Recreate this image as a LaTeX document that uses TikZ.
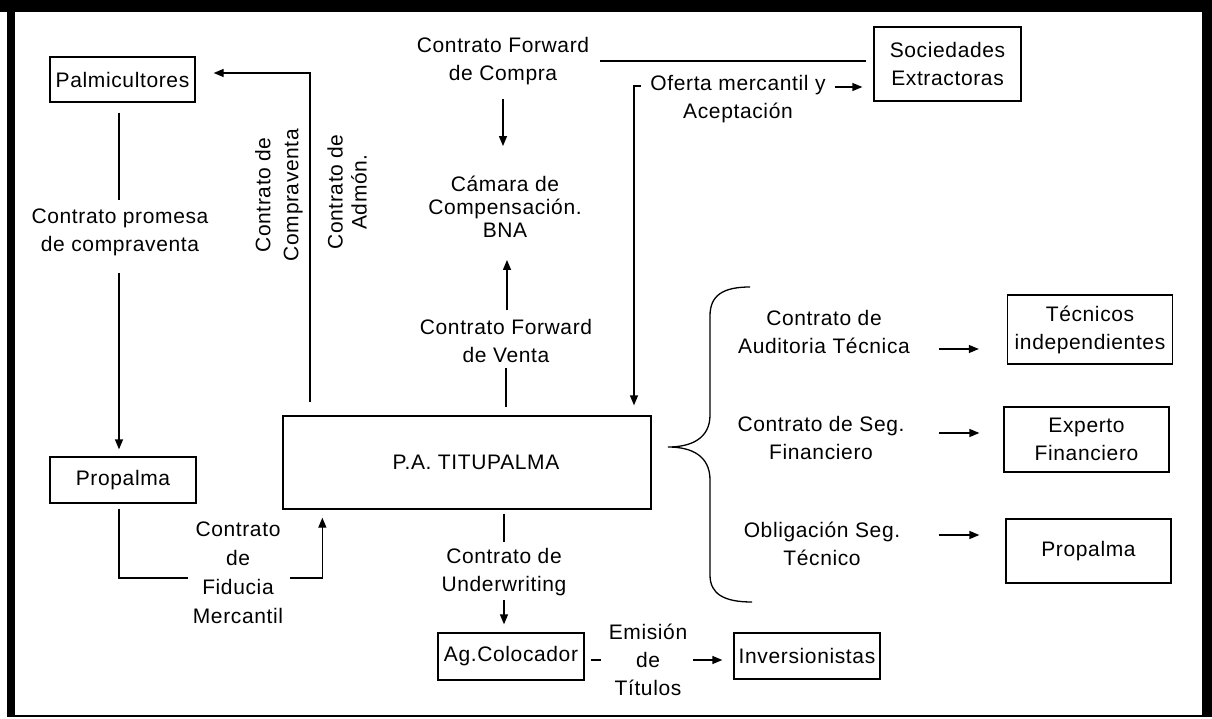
\documentclass[tikz,border=0pt]{standalone}
\usepackage{fontspec}
\setmainfont[LetterSpace=3]{Liberation Sans}
\usetikzlibrary{arrows.meta,calc}
\tikzset{
  box/.style={draw, line width=1.3pt, inner sep=0pt, align=center},
  lbl/.style={inner sep=0pt, align=center},
  conn/.style={line width=1.3pt},
  arr/.style={line width=1.3pt, -{Triangle[length=10pt,width=8pt]}},
}
\begin{document}
\begin{tikzpicture}[x=1pt,y=-1pt,font=\fontsize{21}{28}\selectfont]
\useasboundingbox (0,0) rectangle (1212,719);
% frame
\fill[black] (0,0) rectangle (1212,12);
\fill[black] (7,0) rectangle (15,717);
\fill[black] (1202,0) rectangle (1212,717);
\draw[line width=1.5pt] (15,716) -- (1202,716);

% boxes
\node[box, minimum width=145pt, minimum height=45pt] (palm) at (122.5,79.5) {Palmicultores};
\node[box, minimum width=146pt, minimum height=46pt] (propL) at (123,480) {Propalma};
\node[box, minimum width=368pt, minimum height=93pt] (pa) at (467,462.5) {};
\node[lbl] (patext) at (476,462) {P.A. TITUPALMA};
\node[box, minimum width=147pt, minimum height=74pt] (soc) at (947.5,64) {Sociedades\\Extractoras};
\node[box, minimum width=165pt, minimum height=69pt] (tec) at (1090,329.5) {Técnicos\\independientes};
\node[box, minimum width=165pt, minimum height=65pt] (exp) at (1086.5,439.5) {Experto\\Financiero};
\node[box, minimum width=165pt, minimum height=64pt] (propR) at (1088.5,551) {Propalma};
\node[box, minimum width=146pt, minimum height=47pt] (ag) at (511,656.5) {Ag.Colocador};
\node[box, minimum width=146pt, minimum height=46pt] (inv) at (807,656) {Inversionistas};

% labels
\node[lbl] (cfc) at (503,61) {Contrato Forward\\de Compra};
\node[lbl, font=\fontsize{21}{23}\selectfont] (cam) at (505,207) {Cámara de\\Compensación.\\BNA};
\node[lbl] (cfv) at (506,341) {Contrato Forward\\de Venta};
\node[lbl] (ofa) at (738,99) {Oferta mercantil y\\Aceptación};
\node[lbl] (cpc) at (120,232) {Contrato promesa\\de compraventa};
\node[lbl, rotate=90, font=\fontsize{21}{28}\selectfont] (ccv) at (279,195) {Contrato de\\Compraventa};
\node[lbl, rotate=90, font=\fontsize{21}{24}\selectfont] (cad) at (347,192) {Contrato de\\Admón.};
\node[lbl, font=\fontsize{21}{29}\selectfont] (cfm) at (238,573) {Contrato\\de\\Fiducia\\Mercantil};
\node[lbl] (cuw) at (504,572) {Contrato de\\Underwriting};
\node[lbl] (emi) at (648,660) {Emisión\\de\\Títulos};
\node[lbl] (cat) at (824,332) {Contrato de\\Auditoria Técnica};
\node[lbl] (csf) at (821,438) {Contrato de Seg.\\Financiero};
\node[lbl] (ost) at (822,544) {Obligación Seg.\\Técnico};

% gap / bend points
\coordinate (g1) at (119,200);
\coordinate (g2) at (119,273);
\coordinate (f1) at (188,578);
\coordinate (f2) at (290,578);
\coordinate (c1) at (310,402);
\coordinate (c2) at (310,73);
\coordinate (fc1) at (600,61);
\coordinate (o1) at (641,86);
\coordinate (o2) at (835,87);
\coordinate (u1) at (504,542);
\coordinate (u2) at (504,600);
\coordinate (e1) at (693,660);
\coordinate (v1) at (506,368);
\coordinate (v2) at (507,310);

% connectors
\draw[conn] ($(palm.south)+(-3.5,10)$) -- (g1);
\draw[arr] (g2) -- ($(propL.north)+(-4,-7)$);
\draw[conn] ($(propL.south)+(-4,5)$) |- (f1);
\draw[arr] (f2) -| ($(pa.south west)+(40,8)$);
\draw[arr] (c1) -- (c2) -- ($(palm.east)+(18,-6.5)$);
\draw[conn] (fc1) -- ($(soc.west)+(-7,-3)$);
\draw[arr] ($(cfc.south)+(0,14)$) -- ($(cam.north)+(-2,-30)$);
\draw[arr] (v2) -- ($(cam.south)+(2,22)$);
\draw[conn] ($(pa.north)+(39,-8)$) -- (v1);
\draw[arr] (o1) -| ($(pa.north)+(167,-10)$);
\draw[arr] (o2) -- ($(soc.west)+(-11,23)$);
\draw[arr] ($(tec.west)+(-68,19.5)$) -- ($(tec.west)+(-28,19.5)$);
\draw[arr] ($(exp.west)+(-64,-6.5)$) -- ($(exp.west)+(-24,-6.5)$);
\draw[arr] ($(propR.west)+(-66,-16)$) -- ($(propR.west)+(-26,-16)$);
\draw[conn] ($(pa.south)+(37,4)$) -- (u1);
\draw[arr] (u2) -- ($(ag.north)+(-7,-8)$);
\draw[conn] ($(ag.east)+(6,3.5)$) -- ++(10,0);
\draw[arr] (e1) -- ($(inv.west)+(-11,4)$);

% brace
\draw[conn] (750,287) .. controls (722,287) and (710,296) .. (710,316)
  -- (710,415) .. controls (710,438) and (692,447) .. (668,447)
  .. controls (692,447) and (710,456) .. (710,480)
  -- (710,575) .. controls (710,594) and (724,602) .. (752,602);
\end{tikzpicture}
\end{document}
